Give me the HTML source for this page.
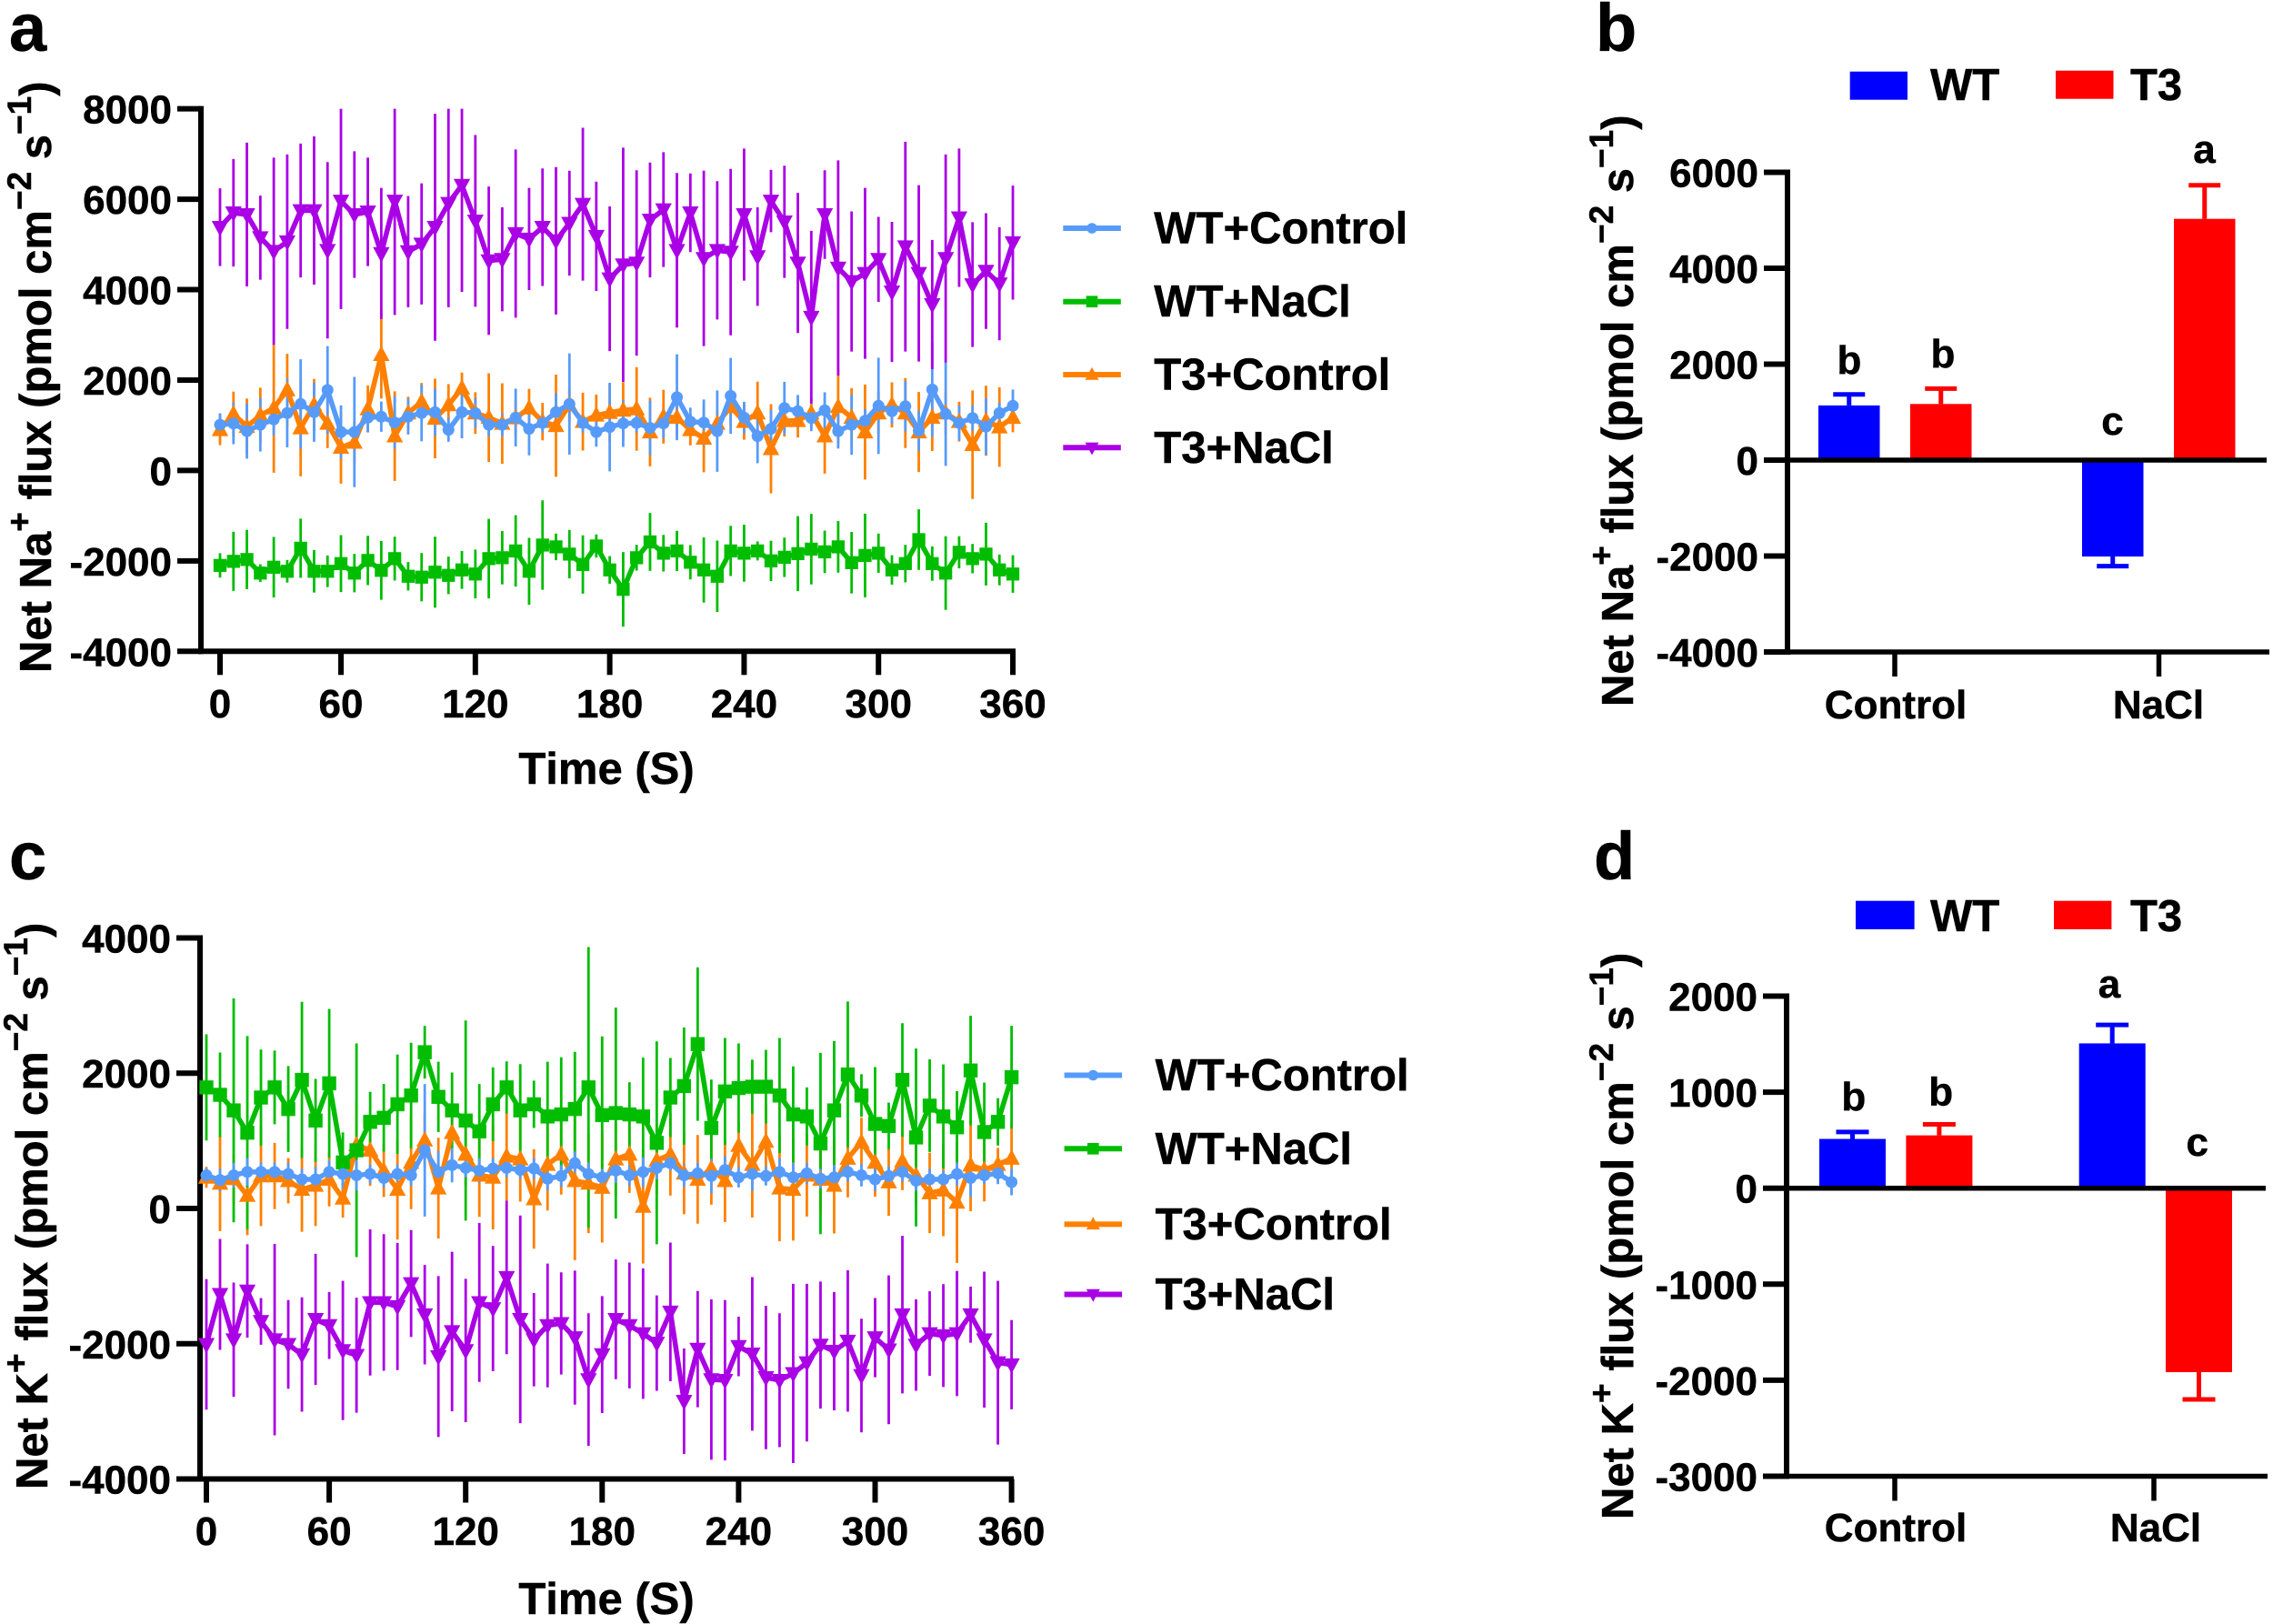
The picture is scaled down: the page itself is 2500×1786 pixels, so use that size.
<!DOCTYPE html>
<html lang="en">
<head>
<meta charset="utf-8">
<title>Net Na+ and K+ flux</title>
<style>
html,body{margin:0;padding:0;background:#fff;}
svg{display:block;}
text{font-family:"Liberation Sans",Arial,sans-serif;font-weight:bold;fill:#000;stroke:#000;stroke-width:0.5px;font-kerning:none;}
</style>
</head>
<body>
<svg id="fig" xmlns="http://www.w3.org/2000/svg" width="2500" height="1786" viewBox="0 0 2500 1786">
  <rect x="0" y="0" width="2500" height="1786" fill="#fff"/>

  <text x="10" y="56" font-size="74">a</text>
  <text x="1755" y="56" font-size="74">b</text>
  <text x="10" y="967" font-size="74">c</text>
  <text x="1753" y="967" font-size="74">d</text>

  <g id="panelA"></g>
  <g id="panelC"></g>
  <g id="panelB"></g>
  <g id="panelD"></g>

  <text transform="translate(56,740) rotate(-90)" font-size="49">Net Na<tspan font-size="37" dy="-22">+</tspan><tspan dy="22"> flux (pmol cm</tspan><tspan font-size="37" dy="-22">−2</tspan><tspan dy="22"> s</tspan><tspan font-size="37" dy="-22">−1</tspan><tspan dy="22">)</tspan></text>
  <text transform="translate(1796,777) rotate(-90)" font-size="49">Net Na<tspan font-size="37" dy="-22">+</tspan><tspan dy="22"> flux (pmol cm</tspan><tspan font-size="37" dy="-22">−2</tspan><tspan dy="22"> s</tspan><tspan font-size="37" dy="-22">−1</tspan><tspan dy="22">)</tspan></text>
  <text transform="translate(52,1638) rotate(-90)" font-size="49">Net K<tspan font-size="37" dy="-22">+</tspan><tspan dy="22"> flux (pmol cm</tspan><tspan font-size="37" dy="-22">−2</tspan><tspan dy="22"> s</tspan><tspan font-size="37" dy="-22">−1</tspan><tspan dy="22">)</tspan></text>
  <text transform="translate(1796,1671) rotate(-90)" font-size="49">Net K<tspan font-size="37" dy="-22">+</tspan><tspan dy="22"> flux (pmol cm</tspan><tspan font-size="37" dy="-22">−2</tspan><tspan dy="22"> s</tspan><tspan font-size="37" dy="-22">−1</tspan><tspan dy="22">)</tspan></text>

  <text x="667" y="862" font-size="49" text-anchor="middle">Time (S)</text>
  <text x="667" y="1775" font-size="49" text-anchor="middle">Time (S)</text>
</svg>

<script>
// ---------- Panel a: Net Na+ flux time course ----------
const timeTickLabels = [0, 60, 120, 180, 240, 300, 360];
const timeTickSamples = [0, 9, 19, 29, 39, 49, 59];

const naTicks = [8000, 6000, 4000, 2000, 0, -2000, -4000];
const kTicks = [4000, 2000, 0, -2000, -4000];

const aWtControl = [1010,1040,870,1010,1130,1270,1470,1290,1780,850,850,1170,1190,1060,1190,1270,1290,900,1290,1270,1010,1010,1170,920,1050,1290,1470,1050,850,960,1040,1050,940,1040,1620,1080,1060,870,1650,1170,760,920,1380,1310,1160,1330,870,1010,1100,1430,1310,1420,880,1790,1250,1050,1160,970,1270,1430];
const aWtControlErr = [255,460,610,590,350,760,990,655,970,590,1220,325,335,580,395,625,520,265,580,325,255,255,640,585,210,415,1120,210,325,980,520,210,600,325,950,310,510,900,840,350,600,415,580,360,290,400,385,665,255,1065,280,555,440,1040,1150,385,280,630,230,360];

const aWtNacl = [-2100,-2010,-1970,-2270,-2140,-2230,-1720,-2230,-2230,-2060,-2270,-1990,-2210,-1950,-2340,-2360,-2250,-2320,-2200,-2290,-1950,-1930,-1780,-2230,-1650,-1690,-1850,-2080,-1670,-2200,-2630,-1930,-1580,-1830,-1780,-2030,-2200,-2340,-1780,-1830,-1780,-2000,-1920,-1840,-1740,-1800,-1690,-2040,-1880,-1830,-2200,-2060,-1530,-2060,-2270,-1810,-1950,-1850,-2200,-2290];
const aWtNaclErr = [270,655,655,195,670,250,655,470,350,630,425,545,650,485,315,535,785,415,420,540,880,590,790,740,990,295,535,645,255,305,825,285,640,405,445,380,720,790,555,630,210,445,435,830,780,470,570,680,925,435,325,415,670,380,815,355,325,695,340,415];

const aT3Control = [900,1250,970,1220,1380,1780,940,1450,1040,510,620,1360,2560,760,1270,1520,1150,1450,1820,1270,1170,1040,1160,1380,1080,990,1450,1080,1220,1280,1330,1360,850,1190,1170,900,710,1040,1410,1080,1270,480,1100,1100,1270,760,1410,1170,850,1270,1450,1270,850,1170,1270,1080,570,1100,960,1170];
const aT3ControlErr = [340,495,620,610,1430,800,1070,575,545,800,460,520,970,990,360,415,880,460,345,460,980,890,395,425,415,1130,370,640,460,625,625,925,760,595,415,345,750,280,415,400,695,985,350,370,320,830,825,650,1050,460,500,775,885,740,460,440,1200,775,880,325];

const aT3Nacl = [5380,5700,5660,5150,4850,5060,5750,5750,4870,5960,5660,5720,4800,5960,4840,5010,5380,5910,6310,5520,4640,4670,5240,5120,5380,5080,5470,5890,5180,4240,4550,4590,5540,5770,4870,5700,4690,4870,4830,5660,4730,5960,5500,4590,3390,5660,4480,4180,4360,4670,3950,4950,4360,3670,4690,5590,4110,4410,4130,5040];
const aT3NaclErr = [860,1190,1590,930,2070,1930,1480,1640,1950,2390,1400,1200,1450,2520,1230,1340,2510,2300,2360,1900,1640,1150,1860,1130,1300,1630,1160,1690,1210,1600,2590,2050,1270,1270,1710,870,1940,1530,1840,1460,1090,690,1240,1550,1910,980,2380,1550,1890,940,1550,2320,1950,1430,2300,1530,1380,1280,1250,1260];

// ---------- Panel c: Net K+ flux time course ----------
const cWtControl = [490,420,490,540,540,540,510,430,430,540,510,490,510,450,510,490,860,540,640,600,560,590,600,570,590,440,480,670,510,460,560,490,540,600,670,490,520,480,570,460,510,480,540,460,520,440,460,540,490,430,480,540,410,430,430,510,450,490,520,390];
const cWtControlErr = [110,170,185,205,140,140,165,155,185,170,245,225,140,140,140,155,980,310,255,140,185,155,140,135,155,170,160,170,170,125,185,155,215,170,110,170,155,255,200,150,250,140,200,215,155,145,185,140,165,170,140,145,150,155,130,170,280,125,160,195];

const cWtNacl = [1790,1680,1450,1120,1640,1790,1470,1900,1300,1850,680,860,1280,1340,1540,1670,2310,1650,1450,1300,1140,1540,1790,1450,1540,1360,1390,1470,1790,1380,1410,1390,1360,970,1640,1810,2430,1190,1730,1780,1800,1800,1670,1390,1360,960,1450,1980,1670,1250,1220,1900,1050,1520,1360,1200,2040,1130,1280,1940];
const cWtNaclErr = [785,625,1655,1430,710,545,635,1155,615,1100,445,1580,445,500,735,780,390,520,560,1480,700,545,385,685,350,810,845,845,2075,1165,1560,475,870,1500,585,865,1135,715,790,660,400,545,850,710,430,1340,1025,1080,315,840,345,840,1315,685,770,535,810,730,350,760];

const cT3Control = [460,370,440,190,480,480,410,280,340,430,150,940,860,560,280,680,1010,300,1120,800,490,460,770,730,140,650,800,410,370,310,730,800,30,710,800,520,430,590,410,930,650,990,300,280,490,430,340,740,980,680,390,700,490,230,270,90,640,570,650,740];
const cT3ControlErr = [155,705,370,585,740,490,335,625,600,400,285,660,525,390,740,690,400,745,430,465,615,770,655,630,735,680,595,1175,735,815,535,570,845,505,610,605,655,535,610,345,785,545,785,755,610,525,710,575,360,505,500,430,465,595,680,895,680,465,245,505];

const cT3Nacl = [-2010,-1270,-1940,-1220,-1670,-1940,-2010,-2160,-1640,-1730,-2100,-2170,-1390,-1390,-1450,-1110,-1570,-2190,-1820,-2100,-1390,-1480,-1020,-1640,-1940,-1730,-1700,-1910,-2530,-2160,-1640,-1730,-1850,-1990,-1530,-2850,-2080,-2530,-2540,-2040,-2150,-2500,-2540,-2440,-2280,-2020,-2110,-1960,-2470,-1910,-2090,-1570,-2020,-1850,-1880,-1850,-1570,-1940,-2280,-2310];
const cT3NaclErr = [965,820,845,690,345,1415,655,845,970,495,1030,850,1080,1010,940,790,735,1190,1180,1060,1175,925,1135,1535,690,915,755,990,980,865,885,930,965,705,1025,780,860,1185,1185,440,1135,1060,990,1325,1165,940,875,1045,840,585,1100,1165,675,625,760,925,415,1005,1210,660];

const seriesNames = ['WT+Control', 'WT+NaCl', 'T3+Control', 'T3+NaCl'];

// ---------- Panels b and d: bars ----------
const barCategories = ['Control', 'NaCl'];
const barGroups = ['WT', 'T3'];

const bWtValues = [1140, -2010];
const bWtErrors = [230, 200];
const bT3Values = [1170, 5030];
const bT3Errors = [320, 700];
const bTicks = [6000, 4000, 2000, 0, -2000, -4000];
const bWtLetters = ['b', 'c'];
const bT3Letters = ['b', 'a'];

const dWtValues = [513, 1508];
const dWtErrors = [73, 192];
const dT3Values = [550, -1916];
const dT3Errors = [115, 284];
const dTicks = [2000, 1000, 0, -1000, -2000, -3000];
const dWtLetters = ['b', 'a'];
const dT3Letters = ['b', 'c'];

// ---------- Drawing ----------
const NS = 'http://www.w3.org/2000/svg';
const COLORS = { blue: '#569BFA', green: '#00BD00', orange: '#FF8000', purple: '#AA00E6', barBlue: '#0000FF', barRed: '#FF0000' };

function mk(parent, tag, attrs, text) {
  const el = document.createElementNS(NS, tag);
  for (const k in attrs) el.setAttribute(k, attrs[k]);
  if (text !== undefined) el.textContent = text;
  parent.appendChild(el);
  return el;
}

function markerEl(parent, shape, x, y, color, size) {
  let el;
  if (shape === 'circle') {
    el = mk(parent, 'circle', { cx: x, cy: y, r: size * 0.5, fill: color });
  } else if (shape === 'square') {
    el = mk(parent, 'rect', { x: x - size * 0.55, y: y - size * 0.55, width: size * 1.1, height: size * 1.1, fill: color });
  } else if (shape === 'up') {
    const s = size * 0.62;
    el = mk(parent, 'polygon', { points: (x) + ',' + (y - s * 1.15) + ' ' + (x + s * 1.05) + ',' + (y + s * 0.8) + ' ' + (x - s * 1.05) + ',' + (y + s * 0.8), fill: color });
  } else {
    const s = size * 0.62;
    el = mk(parent, 'polygon', { points: (x) + ',' + (y + s * 1.15) + ' ' + (x + s * 1.05) + ',' + (y - s * 0.8) + ' ' + (x - s * 1.05) + ',' + (y - s * 0.8), fill: color });
  }
  return el;
}

function drawYAxis(g, cfg, yScale) {
  const yTop = yScale(cfg.ticks[0]);
  const yBot = yScale(cfg.ticks[cfg.ticks.length - 1]);
  const axis = mk(g, 'line', { x1: cfg.axisX, x2: cfg.axisX, y1: yTop - 3, y2: yBot + 3, stroke: '#000', 'stroke-width': 6 });
  
  
  cfg.ticks.forEach(function (t) {
    const y = yScale(t);
    const tick = mk(g, 'line', { x1: cfg.axisX - 26, x2: cfg.axisX, y1: y, y2: y, stroke: '#000', 'stroke-width': 6 });
    
    
    const label = mk(g, 'text', { x: cfg.axisX - 32, y: y + 16, 'font-size': 44, 'text-anchor': 'end' }, String(t));
    
    
  });
}

function drawTimePanel(g, cfg) {
  const yScale = function (v) { return cfg.yZero - v * cfg.yPerUnit; };
  const xScale = function (i) { return cfg.x0 + i * cfg.dx; };
  const yMax = cfg.ticks[0];

  // x axis
  const xAxisY = yScale(cfg.ticks[cfg.ticks.length - 1]);
  const xAxis = mk(g, 'line', { x1: cfg.axisX - 3, x2: cfg.xEnd, y1: xAxisY, y2: xAxisY, stroke: '#000', 'stroke-width': 6 });
  
  
  timeTickSamples.forEach(function (s, k) {
    const x = xScale(s);
    const tick = mk(g, 'line', { x1: x, x2: x, y1: xAxisY, y2: xAxisY + 26, stroke: '#000', 'stroke-width': 6 });
    
    
    const label = mk(g, 'text', { x: x, y: cfg.xLabelY, 'font-size': 44, 'text-anchor': 'middle' }, String(timeTickLabels[k]));
    
    
  });
  drawYAxis(g, cfg, yScale);

  // error bars, then lines and markers, series by series
  cfg.series.forEach(function (s) {
    const sg = mk(g, 'g', {});
    
    
    s.values.forEach(function (v, i) {
      const hi = Math.min(v + s.errors[i], yMax);
      const lo = v - s.errors[i];
      const bar = mk(sg, 'line', { x1: xScale(i), x2: xScale(i), y1: yScale(hi), y2: yScale(lo), stroke: s.color, 'stroke-width': 2.8 });
      
      
    });
  });
  cfg.series.forEach(function (s) {
    const pts = s.values.map(function (v, i) { return xScale(i) + ',' + yScale(v); }).join(' ');
    const line = mk(g, 'polyline', { points: pts, fill: 'none', stroke: s.color, 'stroke-width': 5.5, 'stroke-linejoin': 'round' });
    
    
    s.values.forEach(function (v, i) {
      const m = markerEl(g, s.shape, xScale(i), yScale(v), s.color, s.size);
      
      
    });
  });

  // legend
  cfg.legend.forEach(function (l, k) {
    const lg = mk(g, 'g', {});
    
    
    mk(lg, 'line', { x1: cfg.legendX, x2: cfg.legendX + 63.5, y1: cfg.legendY[k], y2: cfg.legendY[k], stroke: l.color, 'stroke-width': 6 });
    markerEl(lg, l.shape, cfg.legendX + 31.7, cfg.legendY[k], l.color, 11.5);
    mk(lg, 'text', { x: cfg.legendX + 100, y: cfg.legendY[k] + 16.5, 'font-size': 49 }, seriesNames[l.nameIndex]);
  });
}

function drawBarPanel(g, cfg) {
  const yScale = function (v) { return cfg.yZero - v * cfg.yPerUnit; };
  const groups = [
    { color: COLORS.barBlue, values: cfg.wtValues, errors: cfg.wtErrors, lefts: cfg.wtLefts, letters: cfg.wtLetters, letterPos: cfg.wtLetterPos, id: 'wt' },
    { color: COLORS.barRed, values: cfg.t3Values, errors: cfg.t3Errors, lefts: cfg.t3Lefts, letters: cfg.t3Letters, letterPos: cfg.t3LetterPos, id: 't3' }
  ];
  groups.forEach(function (grp) {
    grp.values.forEach(function (v, i) {
      const left = grp.lefts[i];
      const cx = left + cfg.barW / 2;
      const y0 = yScale(0);
      const yv = yScale(v);
      const sign = v >= 0 ? 1 : -1;
      const yErr = yScale(v + sign * grp.errors[i]);
      const stem = mk(g, 'line', { x1: cx, x2: cx, y1: yv, y2: yErr, stroke: grp.color, 'stroke-width': 5 });
      
      
      const cap = mk(g, 'line', { x1: cx - cfg.capW / 2, x2: cx + cfg.capW / 2, y1: yErr, y2: yErr, stroke: grp.color, 'stroke-width': 5 });
      
      
      const bar = mk(g, 'rect', { x: left, y: Math.min(y0, yv), width: cfg.barW, height: Math.abs(yv - y0), fill: grp.color });
      
      
      const letter = mk(g, 'text', { x: grp.letterPos[i][0], y: grp.letterPos[i][1], 'font-size': 44, 'text-anchor': 'middle' }, grp.letters[i]);
      
      
    });
  });

  // axes
  const yBot = yScale(cfg.ticks[cfg.ticks.length - 1]);
  const zero = mk(g, 'line', { x1: cfg.axisX, x2: cfg.zeroEnd, y1: yScale(0), y2: yScale(0), stroke: '#000', 'stroke-width': 5.5 });
  
  
  const xAxis = mk(g, 'line', { x1: cfg.axisX, x2: cfg.xEnd, y1: yBot, y2: yBot, stroke: '#000', 'stroke-width': 5.5 });
  
  
  cfg.catTicks.forEach(function (x, i) {
    const tick = mk(g, 'line', { x1: x, x2: x, y1: yBot, y2: yBot + 27, stroke: '#000', 'stroke-width': 5.5 });
    
    
    const label = mk(g, 'text', { x: cfg.catLabelX[i], y: cfg.catLabelY, 'font-size': 44, 'text-anchor': 'middle' }, barCategories[i]);
    
    
  });
  drawYAxis(g, cfg, yScale);

  // legend
  const lg = [
    { x: cfg.legend.wtRect[0], y: cfg.legend.wtRect[1], w: cfg.legend.wtRect[2], h: cfg.legend.wtRect[3], color: COLORS.barBlue, tx: 2123, name: barGroups[0] },
    { x: cfg.legend.t3Rect[0], y: cfg.legend.t3Rect[1], w: cfg.legend.t3Rect[2], h: cfg.legend.t3Rect[3], color: COLORS.barRed, tx: 2343, name: barGroups[1] }
  ];
  lg.forEach(function (l) {
    const e = mk(g, 'g', {});
    
    
    mk(e, 'rect', { x: l.x, y: l.y, width: l.w, height: l.h, fill: l.color });
    mk(e, 'text', { x: l.tx, y: cfg.legend.baseline, 'font-size': 49 }, l.name);
  });
}

drawTimePanel(document.getElementById('panelA'), {
  ticks: naTicks, yZero: 517.4, yPerUnit: 0.04972, axisX: 221, x0: 242, dx: 14.78, xEnd: 1117, xLabelY: 789,
  legendX: 1169.3, legendY: [251, 331.7, 412, 492.3],
  legend: [
    { color: COLORS.blue, shape: 'circle', nameIndex: 0 },
    { color: COLORS.green, shape: 'square', nameIndex: 1 },
    { color: COLORS.orange, shape: 'up', nameIndex: 2 },
    { color: COLORS.purple, shape: 'down', nameIndex: 3 }
  ],
  series: [
    { id: 't3-control', values: aT3Control, errors: aT3ControlErr, color: COLORS.orange, shape: 'up', size: 14 },
    { id: 'wt-nacl', values: aWtNacl, errors: aWtNaclErr, color: COLORS.green, shape: 'square', size: 13 },
    { id: 'wt-control', values: aWtControl, errors: aWtControlErr, color: COLORS.blue, shape: 'circle', size: 13 },
    { id: 't3-nacl', values: aT3Nacl, errors: aT3NaclErr, color: COLORS.purple, shape: 'down', size: 14 }
  ]
});

drawTimePanel(document.getElementById('panelC'), {
  ticks: kTicks, yZero: 1329, yPerUnit: 0.07438, axisX: 220, x0: 227, dx: 15.01, xEnd: 1115, xLabelY: 1699,
  legendX: 1170.6, legendY: [1182.5, 1263.3, 1346.4, 1423.5],
  legend: [
    { color: COLORS.blue, shape: 'circle', nameIndex: 0 },
    { color: COLORS.green, shape: 'square', nameIndex: 1 },
    { color: COLORS.orange, shape: 'up', nameIndex: 2 },
    { color: COLORS.purple, shape: 'down', nameIndex: 3 }
  ],
  series: [
    { id: 't3-control', values: cT3Control, errors: cT3ControlErr, color: COLORS.orange, shape: 'up', size: 14 },
    { id: 't3-nacl', values: cT3Nacl, errors: cT3NaclErr, color: COLORS.purple, shape: 'down', size: 14 },
    { id: 'wt-nacl', values: cWtNacl, errors: cWtNaclErr, color: COLORS.green, shape: 'square', size: 14 },
    { id: 'wt-control', values: cWtControl, errors: cWtControlErr, color: COLORS.blue, shape: 'circle', size: 13 }
  ]
});

drawBarPanel(document.getElementById('panelB'), {
  ticks: bTicks, yZero: 506, yPerUnit: 0.05275, axisX: 1966, xEnd: 2496, zeroEnd: 2493, barW: 67.5, capW: 35,
  wtValues: bWtValues, wtErrors: bWtErrors, t3Values: bT3Values, t3Errors: bT3Errors,
  wtLefts: [2000, 2290], t3Lefts: [2101, 2391],
  wtLetters: bWtLetters, t3Letters: bT3Letters,
  wtLetterPos: [[2034, 411], [2323.5, 478]], t3LetterPos: [[2137, 404], [2424.5, 179]],
  catTicks: [2084, 2374.5], catLabelX: [2085, 2374], catLabelY: 790,
  legend: { wtRect: [2034.7, 78.7, 63.3, 31], t3Rect: [2261, 77.7, 63.5, 31], baseline: 110 }
});

drawBarPanel(document.getElementById('panelD'), {
  ticks: dTicks, yZero: 1306.7, yPerUnit: 0.1056, axisX: 1965, xEnd: 2494, zeroEnd: 2492, barW: 73, capW: 36,
  wtValues: dWtValues, wtErrors: dWtErrors, t3Values: dT3Values, t3Errors: dT3Errors,
  wtLefts: [2001, 2286.7], t3Lefts: [2096.4, 2382],
  wtLetters: dWtLetters, t3Letters: dT3Letters,
  wtLetterPos: [[2038.8, 1221], [2320, 1096.8]], t3LetterPos: [[2134.7, 1215.6], [2416.8, 1270.8]],
  catTicks: [2084, 2369], catLabelX: [2085, 2371], catLabelY: 1695,
  legend: { wtRect: [2041, 990.7, 64.6, 31.3], t3Rect: [2259, 990.7, 63.4, 31.3], baseline: 1024 }
});
</script>
</body>
</html>
